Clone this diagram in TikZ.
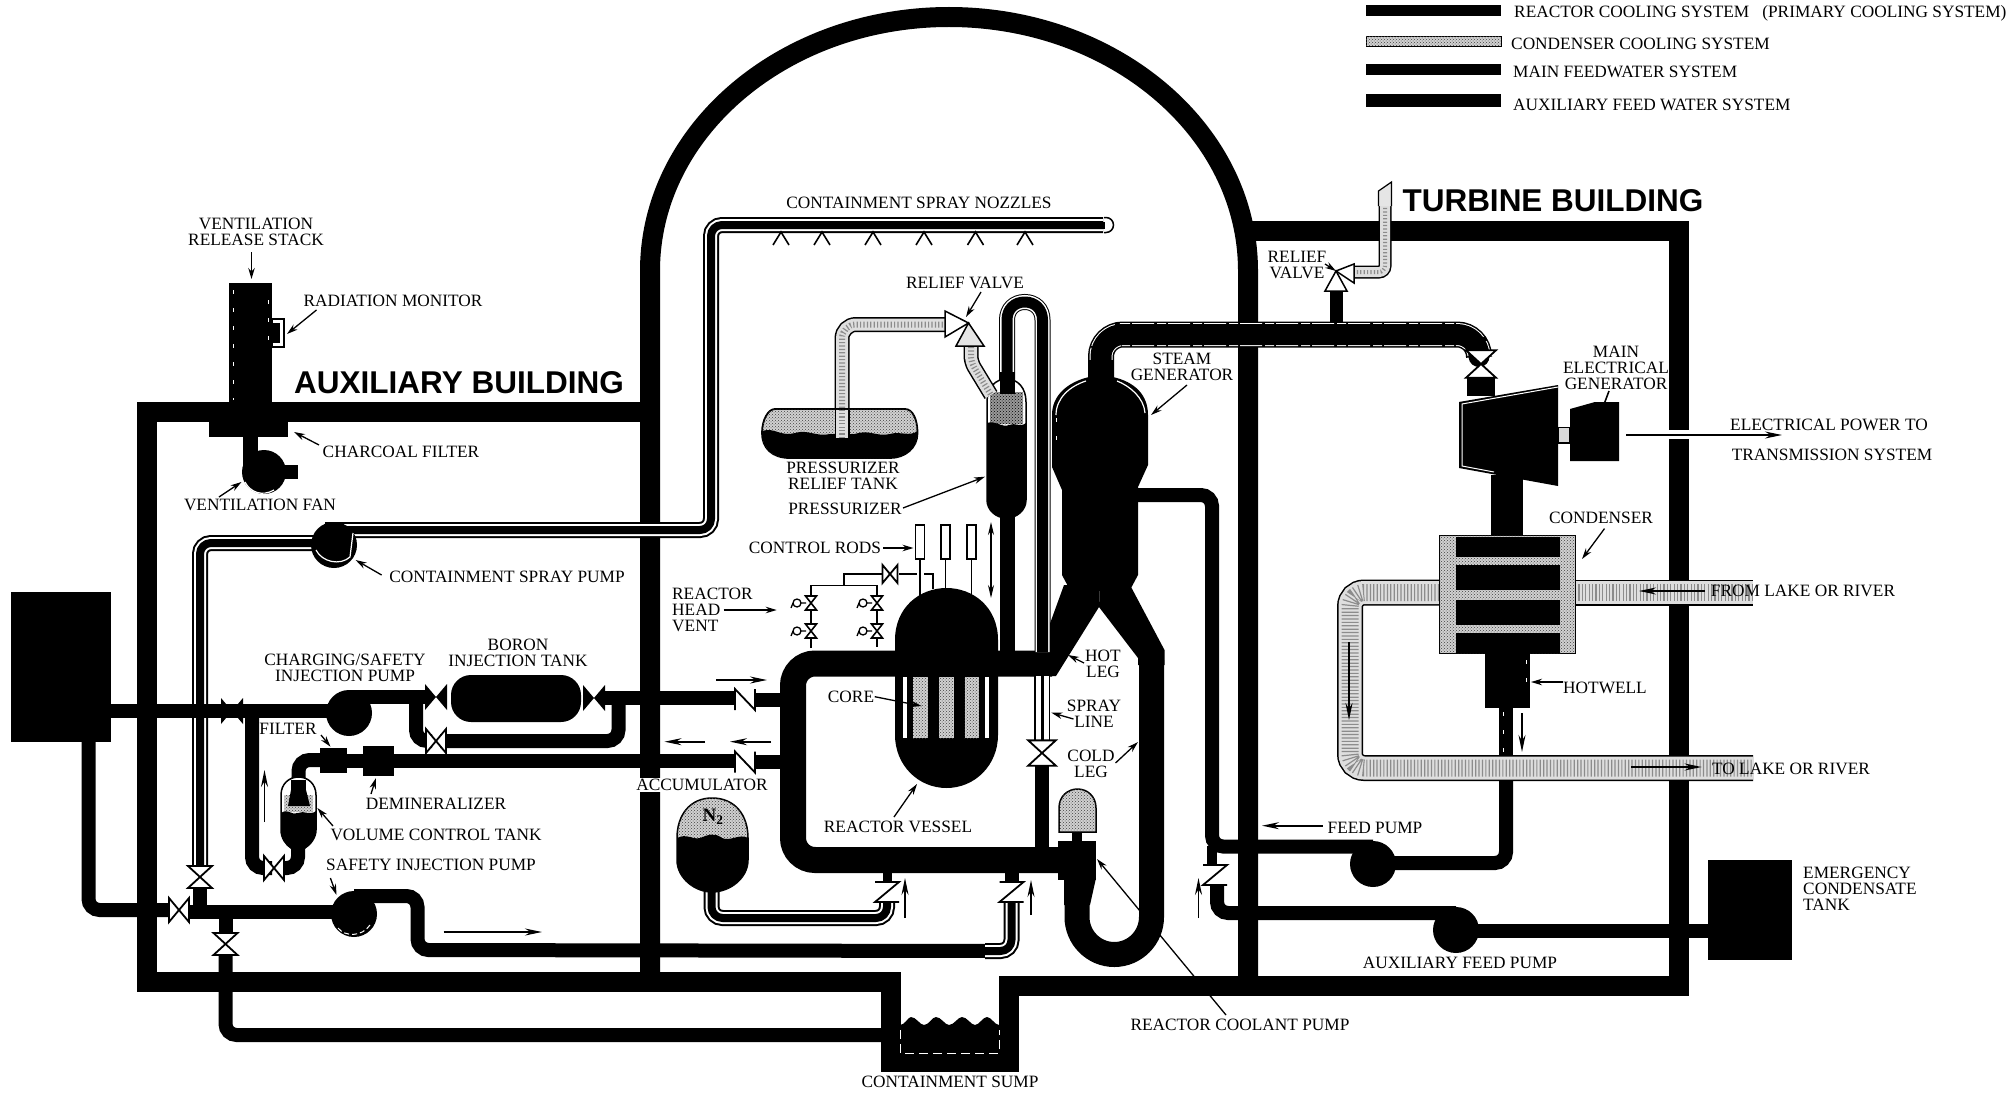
\documentclass[tikz,border=0pt]{standalone}
\usepackage{fontspec}
\setmainfont{Liberation Serif}
\newfontfamily\headfont{Liberation Sans}
\usetikzlibrary{arrows.meta,patterns}
\tikzset{
 wall/.style={draw=black,line width=20pt,line join=miter},
 bp/.style={draw=black,line width=14pt,rounded corners=11pt},
 rcs/.style={draw=black,line width=26pt,rounded corners=22pt},
 triple/.style={draw=black,line width=8pt,rounded corners=11pt,line join=round,
   preaction={draw=black,line width=16pt},preaction={draw=white,line width=12pt}},
 tripleN/.style={draw=black,line width=11pt,line join=round,
   preaction={draw=black,line width=16pt},preaction={draw=white,line width=14pt}},
 edged/.style={draw=black,line width=21pt,rounded corners=22pt,line join=round,
   preaction={draw=black,line width=26pt},
   preaction={draw=white,line width=23pt,dash pattern=on 22pt off 3pt on 9pt off 2pt}},
 gpipe/.style={draw=black!45,line width=#1-9pt,dash pattern=on 1.2pt off 2.2pt,rounded corners=14pt,line join=round,
   preaction={draw=black,line width=#1},preaction={draw=black!13,line width=#1-3pt}},
 stip/.style={fill=black!18,postaction={pattern=crosshatch dots,pattern color=black!75}},
 speck/.style={draw=white,line width=.8pt,dash pattern=on 4pt off 14pt},
 lbl/.style={font=\fontsize{17.3}{15.8}\selectfont,inner sep=0pt,align=center,text=black},
 lbll/.style={lbl,align=left,anchor=west},
 head/.style={font=\fontsize{31.5}{31}\headfont\bfseries,inner sep=0pt,text=black},
 arr/.style={draw=black,line width=1.3pt,-{Stealth[length=11pt,width=6.5pt]}},
 flow/.style={draw=black,line width=1.6pt,-{Stealth[length=17pt,width=7pt]}},
 thinl/.style={draw=black,line width=1.6pt},
 pump/.style={circle,fill=black,inner sep=0pt,minimum size=#1},
 pump/.default=46pt,
 bowW/.pic={\draw[fill=white,line width=1.8pt,line join=miter] (-10,-12)--(10,12)--(10,-12)--(-10,12)--cycle;},
 bowV/.pic={\draw[fill=white,line width=1.8pt,line join=miter] (-12,-11)--(12,11)--(-12,11)--(12,-11)--cycle;},
 bowB/.pic={\fill[black] (-11,-13)--(11,13)--(11,-13)--(-11,13)--cycle;},
 chkH/.pic={\fill[white] (-10,-10.5) rectangle (10,10.5);
   \draw[line width=1.8pt,line join=miter] (-10,10.5)--(-10,-10.5)--(10,10.5)--(10,-10.5);},
 chkV/.pic={\fill[white] (-12,-10) rectangle (12,10);
   \draw[line width=1.8pt,line join=miter] (-12,-10)--(12,-10)--(-12,10)--(12,10);},
 vvent/.pic={\draw[fill=white,line width=1.6pt,line join=miter] (-5.5,-7)--(5.5,7)--(-5.5,7)--(5.5,-7)--cycle;
   \draw[line width=1.3pt] (-5,0)--(-10,0) (-14,0) circle[radius=4pt] (-18,0)--(-20,5);},
}
\begin{document}
\begin{tikzpicture}[x=1pt,y=-1pt]
\useasboundingbox (0,0) rectangle (2008,1097);
\fill[white] (0,0) rectangle (2008,1097);

% ---------- legend
\fill[black] (1366,5) rectangle (1501,16);
\fill[stip,draw=black,line width=.8pt] (1366,36) rectangle (1501,46);
\fill[black] (1366,64) rectangle (1501,75);
\fill[black] (1366,94) rectangle (1501,107);
\node[lbll] (leg1) at (1514,13) {REACTOR COOLING SYSTEM\ \ \ (PRIMARY COOLING SYSTEM)};
\node[lbll] (leg2) at (1511,43.5) {CONDENSER COOLING SYSTEM};
\node[lbll] (leg3) at (1513,72) {MAIN FEEDWATER SYSTEM};
\node[lbll] (leg4) at (1513,105) {AUXILIARY FEED WATER SYSTEM};

% ---------- buildings
\draw[wall] (650,985) -- (650,271) .. controls (650,130.7) and (784,17) .. (949,17)
   .. controls (1114,17) and (1248,130.7) .. (1248,271) -- (1248,985);
\draw[wall] (650,412) -- (146.5,412) -- (146.5,982) -- (890.5,982) -- (890.5,1062) -- (1008.5,1062) -- (1008.5,986) -- (1679,986) -- (1679,231) -- (1240,231);
\fill[white] (1660,430) rectangle (1700,439);

% ---------- sump water
\fill[black] (900,1025) .. controls (905,1025) and (908,1017) .. (911,1017)
  .. controls (916,1017) and (920,1025) .. (924,1025) .. controls (929,1025) and (932,1017) .. (936,1017)
  .. controls (941,1017) and (945,1025) .. (949,1025) .. controls (954,1025) and (958,1017) .. (962,1017)
  .. controls (967,1017) and (971,1025) .. (975,1025) .. controls (979,1025) and (983,1017) .. (987,1017)
  .. controls (991,1017) and (995,1025) .. (999,1025) -- (999,1053) -- (900,1053) -- cycle;
\draw[white,line width=1pt,dash pattern=on 9pt off 5pt] (900,1030) -- (900,1053) -- (999,1053) -- (999,1030);

% ---------- ventilation
\fill[black] (229,283) rectangle (272,410);
\draw[speck] (233,290) -- (233,400);
\draw[speck] (268,300) -- (268,350);
\fill[black] (209,415) rectangle (288,437);
\fill[black] (243,437) rectangle (258,470);
\node[pump=44pt] (fan) at (264,472) {};
\fill[black] (284,465) rectangle (298,479);
\draw[white,line width=1.2pt] (245,482) .. controls (250,492) and (262,497) .. (274,490);
\draw[black,line width=1.5pt,fill=white] (272,319) rectangle (284,347);
\fill[black] (272,323) rectangle (280,343);

% ---------- containment spray
\draw[triple] (200,867) -- (200,543) -- (320,543);
\draw[triple] (325,530) -- (711,530) -- (711,225) -- (1103,225);
\draw[line width=1.5pt,fill=white] (1104,225) ++(0,-7.5) -- ++(2,0) arc[start angle=90,end angle=-90,radius=7.5pt] -- ++(-2,0);
\fill[black] (1100,221.5) rectangle (1105,228.5);
\node[pump=46pt] (sprayp) at (334,545) {};
\draw[white,line width=1.2pt] (316,550) .. controls (322,562) and (340,566) .. (350,557) -- (353,533);
\foreach \nx in {781,822,873,924,975.5,1025}{
  \draw[black,line width=1.6pt] (\nx-8,245) -- (\nx,232) -- (\nx+8,245);
}

% ---------- aux building black pipes
\draw[bp] (88.5,742) -- (88.5,910) -- (168,910);
\draw[bp] (190,912) -- (340,912);
\draw[bp] (200,888) -- (200,912);
\draw[bp] (225.5,912) -- (225.5,935);
\draw[bp] (225.5,955) -- (225.5,1035) -- (885,1035);
\draw[bp] (354,896) -- (417.5,896) -- (417.5,950) -- (990,951);
\draw[triple] (985,951) -- (1011.5,951) -- (1011.5,902);
\draw[bp] (110,711) -- (330,711);
\draw[bp] (349,697) -- (425,697);
\draw[bp] (605,698) -- (735,698);
\draw[bp] (416,697) -- (416,741) -- (432,741);
\draw[bp] (440,741) -- (618.5,741) -- (618.5,698);
\draw[bp] (252,711) -- (252,868) -- (272,868);
\draw[bp] (280,868) -- (298,868) -- (298,845);
\draw[bp] (298.5,790) -- (298.5,760) -- (325,760);
\draw[bp] (340,761) -- (370,761);
\draw[bp] (390,761) -- (735,761);
\draw[bp] (755,699.5) -- (785,699.5);
\draw[bp] (755,762) -- (785,762);

% pumps / tanks aux
\fill[black] (11,592) rectangle (110.6,742);
\node[pump] (chargep) at (349,713) {};
\node[pump] (sip) at (354,914) {};
\draw[white,line width=1pt,dash pattern=on 5pt off 3pt] (338,928) .. controls (345,937) and (362,937) .. (370,925);
\fill[black,rounded corners=20pt] (451,675) rectangle (581,722);
\fill[black] (320,748) rectangle (347,773);
\fill[black] (363,746) rectangle (394,776);
% volume control tank
\path[fill=white,draw=black,line width=1.5pt] (281,795) .. controls (281,784) and (289,777) .. (298.5,777)
  .. controls (308,777) and (316,784) .. (316,795) -- (316,830) .. controls (316,838) and (310,845) .. (305,848) -- (291,848)
  .. controls (286,845) and (281,838) .. (281,830) -- cycle;
\fill[stip] (284,795) rectangle (313,812);
\fill[black] (291,780) rectangle (306,790);
\fill[black] (291,790) -- (306,790) -- (310,806) -- (288,806) -- cycle;
\fill[black] (281,813) .. controls (288,808) and (292,816) .. (298,813) .. controls (304,810) and (310,816) .. (316,811)
  -- (316,830) .. controls (316,838) and (310,845) .. (305,848) -- (291,848) .. controls (286,845) and (281,838) .. (281,830) -- cycle;

\pic at (232,711) {bowB};
\pic at (436,697) {bowB};
\pic at (594,698) {bowB};
\pic at (436,741) {bowW};
\pic at (274,868) {bowW};
\pic at (179,910) {bowW};
\pic at (200,877) {bowV};
\pic at (225.5,944) {bowV};

% ---------- reactor coolant loop
\fill[black] (1040,651) -- (1064,585) -- (1100,585) -- (1099,607) -- (1056,676) -- (1030,676) -- cycle;
\fill[black] (1130,585) -- (1164.5,650) -- (1164.5,665) -- (1138,665) -- (1138,658) -- (1099,607) -- (1100,585) -- cycle;
\draw[rcs] (1052,663.5) -- (793,663.5) -- (793,860) -- (1080,860);
\draw[draw=black,line width=25pt] (1151.5,660) -- (1151.5,917) .. controls (1151.5,937.6) and (1134.8,954.5) .. (1114.25,954.5)
   .. controls (1093.7,954.5) and (1077,937.6) .. (1077,917) -- (1077,870);
\fill[black] (1058,841) rectangle (1096,880);
\fill[black] (1064,878) -- (1096,878) -- (1090,905) -- (1064,905) -- cycle;
\fill[black] (1072,830) rectangle (1082,842);
\path[stip,draw=black,line width=1.5pt] (1059,832) -- (1059,808) .. controls (1059,796) and (1068,789) .. (1077.5,789)
   .. controls (1087,789) and (1096,796) .. (1096,808) -- (1096,832) -- cycle;
% stubs + bottom check valves
\draw[draw=black,line width=9pt] (887,870) -- (887,885);
\draw[draw=black,line width=14pt] (1011.5,870) -- (1011.5,885);
\draw[triple] (887,900) -- (887,918) -- (711.5,918) -- (711.5,888);
\pic at (887,892) {chkV};
\pic at (1011.5,892) {chkV};
\pic at (745,699.5) {chkH};
\pic at (745,762) {chkH};

% accumulator
\path[stip,draw=black,line width=1.5pt] (677,838) .. controls (677,815) and (690,798) .. (712,798)
   .. controls (735,798) and (748,815) .. (748,838) -- (748,860) .. controls (748,878) and (730,892) .. (712,892)
   .. controls (695,892) and (677,878) .. (677,860) -- cycle;
\fill[black] (677,838) .. controls (687,833) and (692,840) .. (700,838) .. controls (708,835) and (714,832) .. (722,838)
  .. controls (730,842) and (740,833) .. (748,838) -- (748,860) .. controls (748,878) and (730,892) .. (712,892)
   .. controls (695,892) and (677,878) .. (677,860) -- cycle;
\node[inner sep=0pt,font=\fontsize{19}{19}\selectfont\bfseries] (n2) at (713,817) {N\textsubscript{2}};

% spray line
\draw[tripleN] (1042.5,652) -- (1042.5,320) .. controls (1042.5,309) and (1035,302) .. (1024.75,302)
  .. controls (1014.5,302) and (1007,309) .. (1007,320) -- (1007,385);
\draw[draw=black,line width=15pt] (1007,510) -- (1007,655);
\draw[draw=black,line width=3pt,preaction={draw=black,line width=16pt},preaction={draw=white,line width=13pt}] (1042,676) -- (1042,740);
\draw[draw=black,line width=14pt] (1042,765) -- (1042,850);
\pic[scale=1.15] at (1042,753) {bowV};

% pressurizer
\path[fill=white,draw=black,line width=1.5pt] (987,402) .. controls (987,388) and (995,379) .. (1006.5,379)
  .. controls (1018,379) and (1026,388) .. (1026,402) -- (1026,500) .. controls (1026,510) and (1017,518) .. (1006.5,518)
  .. controls (996,518) and (987,510) .. (987,500) -- cycle;
\fill[fill=black!40,postaction={pattern=crosshatch dots,pattern color=black}] (990,392) rectangle (1023,424);
\fill[black] (999.5,372) rectangle (1014.5,394);
\fill[black] (987,423) .. controls (995,420) and (1002,428) .. (1009,425) .. controls (1015,422) and (1020,428) .. (1026,423)
  -- (1026,500) .. controls (1026,510) and (1017,518) .. (1006.5,518) .. controls (996,518) and (987,510) .. (987,500) -- cycle;

% relief piping
\draw[gpipe=15pt] (842,435) -- (842,324.5) -- (946,324.5);
\draw[gpipe=15pt,rounded corners=6pt] (971,347) -- (971,362) -- (991,395);
\path[fill=white,draw=black,line width=1.5pt,line join=miter] (945,311) -- (968.5,323) -- (945,337) -- cycle;
\path[fill=black!10,draw=black,line width=1.5pt,line join=miter] (968.5,323) -- (984,346) -- (956,346) -- cycle;

% pressurizer relief tank
\path[stip,draw=black,line width=1.8pt] (775,409) -- (905,409) .. controls (913,409) and (917.5,420) .. (917.5,433)
  .. controls (917.5,448) and (905,458) .. (890,458) -- (790,458) .. controls (772,458) and (762,448) .. (762,433)
  .. controls (762,420) and (768,409) .. (775,409) -- cycle;
\fill[black] (762,431) .. controls (775,427) and (780,437) .. (795,433) .. controls (808,429) and (815,437) .. (830,434)
  -- (855,434) .. controls (870,429) and (875,437) .. (890,434) .. controls (900,431) and (910,437) .. (917.5,431)
  .. controls (917.5,448) and (905,458) .. (890,458) -- (790,458) .. controls (772,458) and (762,448) .. (762,431) -- cycle;
\draw[gpipe=15pt] (842,438) -- (842,410);

% reactor vessel
\fill[black] (895,640) .. controls (895,607) and (920,588) .. (946.5,588) .. controls (973,588) and (998,607) .. (998,640)
  -- (998,735) .. controls (998,765) and (975,788) .. (946.5,788) .. controls (918,788) and (895,765) .. (895,735) -- cycle;
\fill[white] (903,677) rectangle (907,738);
\fill[white] (985,677) rectangle (989,738);
\fill[stip] (913,677) rectangle (928,738);
\fill[stip] (939,677) rectangle (953.5,738);
\fill[stip] (964.5,677) rectangle (979,738);

% control rods
\draw[thinl,fill=white] (915.5,525) rectangle (924.5,559);
\draw[thinl,fill=white] (941,525) rectangle (950,559);
\draw[thinl,fill=white] (967,525) rectangle (976,559);
\draw[thinl] (920,559) -- (920,596);
\draw[thinl] (945.5,559) -- (945.5,590);
\draw[thinl] (971.5,559) -- (971.5,596);
\draw[draw=black,line width=1.4pt,{Stealth[length=13pt,width=6pt]}-{Stealth[length=13pt,width=6pt]}] (991,522) -- (991,598);
% head vent
\draw[thinl] (811,648) -- (811,585.5) -- (877,585.5) -- (877,647);
\draw[thinl] (844,585.5) -- (844,574) -- (883,574);
\draw[thinl] (899,574) -- (917,574);
\draw[thinl] (924,574) -- (933,574) -- (933,589);
\pic[scale=.75] at (890,574) {bowW};
\pic at (811,603) {vvent};
\pic at (811,631) {vvent};
\pic at (877,603) {vvent};
\pic at (877,631) {vvent};

% ---------- steam generator and secondary
\draw[edged] (1101,385) -- (1101,334.5) -- (1479,334.5) -- (1479,356);
\fill[black] (1089,360) -- (1089,377) .. controls (1068,382) and (1052,395) .. (1052,415) -- (1052,467) -- (1062,490)
  -- (1062,575) -- (1070,590) -- (1130,590) -- (1138,575) -- (1138,487) -- (1148,465) -- (1148,415)
  .. controls (1148,395) and (1135,382) .. (1113,377) -- (1113,360) -- cycle;
\draw[white,line width=1.2pt] (1086,381) .. controls (1070,386) and (1056,398) .. (1056,415);
\draw[speck] (1056,418) -- (1056,450);
\draw[white,line width=1.2pt] (1117,381) .. controls (1130,386) and (1144,398) .. (1145,413);
\draw[bp] (1138,495) -- (1212,495) -- (1212,846.5) -- (1373,846.5);
\draw[draw=black,line width=10pt] (1212,846) -- (1212,866);
\draw[bp] (1217,880) -- (1217,913) -- (1456,913);
\draw[bp] (1456,930.5) -- (1708,930.5);
\draw[bp] (1373,863) -- (1506,863) -- (1506,775);
\pic at (1215,875) {chkV};
\node[pump] (feedp) at (1373,864) {};
\node[pump] (auxp) at (1456,930) {};
\fill[black] (1708,860) rectangle (1792,960);

% steam relief
\draw[draw=black,line width=13pt] (1336.5,322) -- (1336.5,290);
\draw[gpipe=13pt,rounded corners=6pt] (1350,272) -- (1385,272) -- (1385,205);
\path[fill=black!10,draw=black,line width=1.2pt,line join=miter] (1378.5,206) -- (1378.5,191) -- (1391.5,182) -- (1391.5,206);
\path[fill=white,draw=black,line width=1.5pt,line join=miter] (1336,271) -- (1354,264) -- (1354,283) -- cycle;
\path[fill=white,draw=black,line width=1.5pt,line join=miter] (1336,271) -- (1347,291) -- (1325,291) -- cycle;

% turbine
\pic[scale=1.25] at (1481,364) {bowV};
\fill[black] (1467,377) rectangle (1495,396);
\fill[black] (1459,402) -- (1558,385) -- (1558,486) -- (1459,468) -- cycle;
\draw[white,line width=1pt] (1558,387) -- (1462,404) -- (1462,466) -- (1494,472);
\draw[thinl,fill=black!15] (1558,427.5) rectangle (1570,443);
\fill[black] (1570,409) -- (1595,402) -- (1619,402) -- (1619,461) -- (1570,461) -- cycle;
\fill[black] (1491,475) rectangle (1523,540);

% condenser
\draw[gpipe=26pt] (1439,592.5) -- (1350,592.5) -- (1350,768) -- (1753,768);
\draw[gpipe=26pt] (1575,592.5) -- (1753,592.5);
\path[stip,draw=black,line width=1pt] (1439,535) rectangle (1575,653);
\fill[black] (1456,537) rectangle (1560,557);
\fill[black] (1456,565) rectangle (1560,590);
\fill[black] (1456,600) rectangle (1560,625);
\fill[black] (1456,633) rectangle (1560,653);
\fill[black] (1485,653) rectangle (1530,708);
\fill[black] (1499,708) rectangle (1513,756);
\fill[black] (1499,781) rectangle (1513,800);
\draw[speck] (1526,660) -- (1526,690);
\draw[speck] (1503,712) -- (1503,752);

% ---------- labels
\node[head] (auxb) at (459,383) {AUXILIARY BUILDING};
\node[head] (turb) at (1553,201) {TURBINE BUILDING};
\node[lbl] (vrs) at (256,232) {VENTILATION\\RELEASE STACK};
\node[lbl] (radm) at (393,301) {RADIATION MONITOR};
\node[lbl] (charf) at (401,452) {CHARCOAL FILTER};
\node[lbl] (vfan) at (260,505) {VENTILATION FAN};
\node[lbl] (csp) at (507,577) {CONTAINMENT SPRAY PUMP};
\node[lbl] (csip) at (345,668) {CHARGING/SAFETY\\INJECTION PUMP};
\node[lbl] (bit) at (518,653) {BORON\\INJECTION TANK};
\node[lbl] (filt) at (288,729) {FILTER};
\node[lbl] (demin) at (436,804) {DEMINERALIZER};
\node[lbl] (vct) at (436,835) {VOLUME CONTROL TANK};
\node[lbl] (sipl) at (431,865) {SAFETY INJECTION PUMP};
\node[lbll] (rhv) at (672,610) {REACTOR\\HEAD\\VENT};
\node[lbl] (crod) at (815,548) {CONTROL RODS};
\node[lbl] (csn) at (919,203) {CONTAINMENT SPRAY NOZZLES};
\node[lbl] (rv1) at (965,283) {RELIEF VALVE};
\node[lbl] (prt) at (843,476) {PRESSURIZER\\RELIEF TANK};
\node[lbl] (prz) at (845,509) {PRESSURIZER};
\node[lbl] (sg) at (1182,367) {STEAM\\GENERATOR};
\node[lbl] (hl) at (1103,664) {HOT\\LEG};
\node[lbl] (spl) at (1094,714) {SPRAY\\LINE};
\node[lbl] (cl) at (1091,764) {COLD\\LEG};
\node[lbl,fill=white,inner sep=1pt] (accl) at (702,785) {ACCUMULATOR};
\node[lbl] (corel) at (851,697) {CORE};
\node[lbl] (rvl) at (898,827) {REACTOR VESSEL};
\node[lbl] (sump) at (950,1082) {CONTAINMENT SUMP};
\node[lbl] (rcp) at (1240,1025) {REACTOR COOLANT PUMP};
\node[lbl] (rv2) at (1297,265) {RELIEF\\VALVE};
\node[lbl] (meg) at (1616,368) {MAIN\\ELECTRICAL\\GENERATOR};
\node[lbl] (ept) at (1829,425) {ELECTRICAL POWER TO};
\node[lbl] (tsys) at (1832,455) {TRANSMISSION SYSTEM};
\node[lbl] (cond) at (1601,518) {CONDENSER};
\node[lbl] (fl) at (1803,591) {FROM LAKE OR RIVER};
\node[lbl] (tl) at (1791,769) {TO LAKE OR RIVER};
\node[lbl] (hw) at (1605,688) {HOTWELL};
\node[lbl] (fpl) at (1375,828) {FEED PUMP};
\node[lbl] (apl) at (1460,963) {AUXILIARY FEED PUMP};
\node[lbll] (ect) at (1803,889) {EMERGENCY\\CONDENSATE\\TANK};

% ---------- callout arrows
\draw[arr] (251.5,252) -- (251.5,279);
\draw[arr] (316.5,310) -- (287,334);
\draw[arr] (319,445) -- (294,432);
\draw[arr] (219,497) -- (241.5,482);
\draw[arr] (381.6,575) -- (355.6,560);
\draw[arr] (321,735) -- (330.5,746.7);
\draw[arr] (371,794) -- (376,778);
\draw[arr] (333,826) -- (317.4,808);
\draw[arr] (330.4,878) -- (336.5,895);
\draw[arr] (723.7,610) -- (776.7,610);
\draw[arr] (883,548) -- (913.5,548);
\draw[arr] (981,292) -- (966,317);
\draw[arr] (903,508) -- (985,476.7);
\draw[arr] (1187,385) -- (1151,415);
\draw[arr] (1084,663) -- (1068,655);
\draw[arr] (1073.5,719) -- (1051.4,712.7);
\draw[arr] (1115.5,763) -- (1138,742);
\draw[arr] (874.7,696.7) -- (921.6,706);
\draw[arr] (894,817) -- (917,784);
\draw[arr] (1226,1015) -- (1097,859);
\draw[arr] (1325,264) -- (1336,271);
\draw[thinl] (1609,391) -- (1604.5,403);
\draw[arr] (1604.5,528.6) -- (1582,559);
\draw[arr] (1563,682) -- (1531,682);
\draw[flow] (1322.6,825.7) -- (1262,825.7);
% ---------- flow arrows
\draw[flow] (264.5,822) -- (264.5,770);
\draw[flow] (443.6,932) -- (542,932);
\draw[flow] (716,680) -- (767,680);
\draw[flow] (705,741.7) -- (664.5,741.7);
\draw[flow] (771,741.7) -- (730,741.7);
\draw[flow] (905,918) -- (905,878);
\draw[flow] (1031,915) -- (1031,880);
\draw[flow] (1198.5,918) -- (1198.5,878);
\draw[flow] (1705,591) -- (1639,591);
\draw[flow] (1631,767) -- (1701.6,767);
\draw[flow] (1522,713) -- (1522,752);
\draw[flow] (1349,642) -- (1349,720);
\draw[flow] (1626,435) -- (1782,435);
\end{tikzpicture}
\end{document}
